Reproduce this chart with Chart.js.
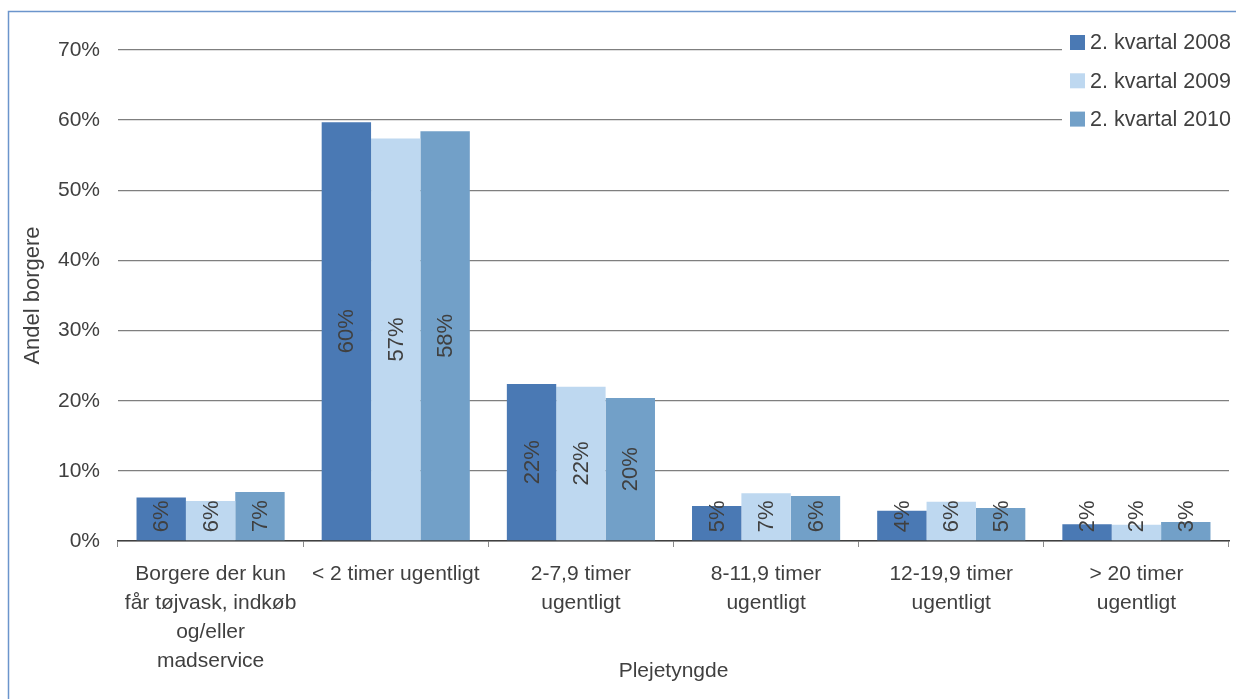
<!DOCTYPE html>
<html>
<head>
<meta charset="utf-8">
<script src="https://cdn.jsdelivr.net/npm/chart.js@4/dist/chart.umd.min.js"></script>
<style>
  html, body { margin: 0; padding: 0; background: #fff; }
  #wrap { width: 1236px; height: 699px; }
</style>
</head>
<body>
<div id="wrap"><canvas id="myChart" width="1236" height="699"></canvas></div>
<script>
const categories = [
  ["Borgere der kun", "får tøjvask, indkøb", "og/eller", "madservice"],
  ["< 2 timer ugentligt"],
  ["2-7,9 timer", "ugentligt"],
  ["8-11,9 timer", "ugentligt"],
  ["12-19,9 timer", "ugentligt"],
  ["> 20 timer", "ugentligt"],
];
const seriesNames = ["2. kvartal 2008", "2. kvartal 2009", "2. kvartal 2010"];
const q2008 = [6.2, 59.7, 22.4, 5.0, 4.3, 2.4];
const q2009 = [5.7, 57.4, 22.0, 6.8, 5.6, 2.3];
const q2010 = [7.0, 58.4, 20.4, 6.4, 4.7, 2.7];
const yTicks = [0, 10, 20, 30, 40, 50, 60, 70];

const colors = ["#4A79B4", "#BED8F0", "#72A0C8"];
const textColor = "#404040";
const fontFamily = "'Liberation Sans', Arial, sans-serif";

Chart.defaults.font.family = fontFamily;
Chart.defaults.color = textColor;

// white background + thin blue frame like the original
const frame = {
  id: "frame",
  beforeDraw(chart) {
    const {ctx, width, height} = chart;
    ctx.save();
    ctx.fillStyle = "#fff";
    ctx.fillRect(0, 0, width, height);
    ctx.strokeStyle = "#6B95CC";
    ctx.lineWidth = 1.5;
    ctx.strokeRect(8.5, 11.5, width + 20, height + 20);
    ctx.restore();
  }
};

// rotated value labels inside the bars
const barLabels = {
  id: "barLabels",
  afterDatasetsDraw(chart) {
    const {ctx} = chart;
    ctx.save();
    ctx.font = "22px " + fontFamily;
    ctx.fillStyle = textColor;
    ctx.textAlign = "center";
    ctx.textBaseline = "middle";
    chart.data.datasets.forEach((ds, di) => {
      chart.getDatasetMeta(di).data.forEach((bar, i) => {
        const text = Math.round(ds.data[i]) + "%";
        const w = ctx.measureText(text).width;
        const cy = Math.min((bar.y + bar.base) / 2, bar.base - 8 - w / 2);
        ctx.save();
        ctx.translate(bar.x, cy);
        ctx.rotate(-Math.PI / 2);
        ctx.fillText(text, 0, 1);
        ctx.restore();
      });
    });
    ctx.restore();
  }
};

// legend in the top right corner, on a white patch over the gridlines
const cornerLegend = {
  id: "cornerLegend",
  afterDraw(chart) {
    const {ctx} = chart;
    ctx.save();
    ctx.fillStyle = "#fff";
    ctx.fillRect(1062, 22, 172, 118);
    ctx.font = "21.5px " + fontFamily;
    ctx.textBaseline = "middle";
    chart.data.datasets.forEach((ds, i) => {
      const cy = 42.5 + i * 38.3;
      ctx.fillStyle = ds.backgroundColor;
      ctx.fillRect(1070, cy - 7.5, 15, 15);
      ctx.fillStyle = textColor;
      ctx.fillText(ds.label, 1090, cy + 1);
    });
    ctx.restore();
  }
};

new Chart(document.getElementById("myChart"), {
  type: "bar",
  data: {
    labels: categories,
    datasets: [q2008, q2009, q2010].map((data, i) => ({
      label: seriesNames[i],
      data: data,
      backgroundColor: colors[i],
      borderWidth: 0,
      barPercentage: 1.0,
      categoryPercentage: 0.8,
    })),
  },
  options: {
    responsive: false,
    animation: false,
    devicePixelRatio: 1,
    layout: {padding: {left: 0, right: 7, top: 50, bottom: 0}},
    plugins: {
      legend: {display: false},
      tooltip: {enabled: false},
    },
    scales: {
      x: {
        grid: {
          offset: true,
          drawOnChartArea: false,
          drawTicks: true,
          tickLength: 6,
          color: "#8A8A8A",
        },
        border: {color: "#404040", width: 1.5},
        ticks: {
          color: textColor,
          padding: 13,
          maxRotation: 0,
          autoSkip: false,
          font: {size: 21, lineHeight: 1.38},
        },
        title: {
          display: true,
          text: "Plejetyngde",
          color: textColor,
          font: {size: 21},
          padding: {top: 0, bottom: 15},
        },
        afterFit(scale) { scale.height = 158; },
      },
      y: {
        min: 0,
        max: 70,
        afterBuildTicks(scale) { scale.ticks = yTicks.map(v => ({value: v})); },
        grid: {
          color: "#7F7F7F",
          lineWidth: 1.3,
          drawTicks: false,
        },
        border: {display: false},
        ticks: {
          color: textColor,
          padding: 18,
          font: {size: 21},
          callback: v => v + "%",
        },
        title: {
          display: true,
          text: "Andel borgere",
          color: textColor,
          font: {size: 22},
          padding: {top: 20, bottom: 0},
        },
        afterFit(scale) { scale.width = 118; },
      },
    },
  },
  plugins: [frame, barLabels, cornerLegend],
});
</script>
</body>
</html>
